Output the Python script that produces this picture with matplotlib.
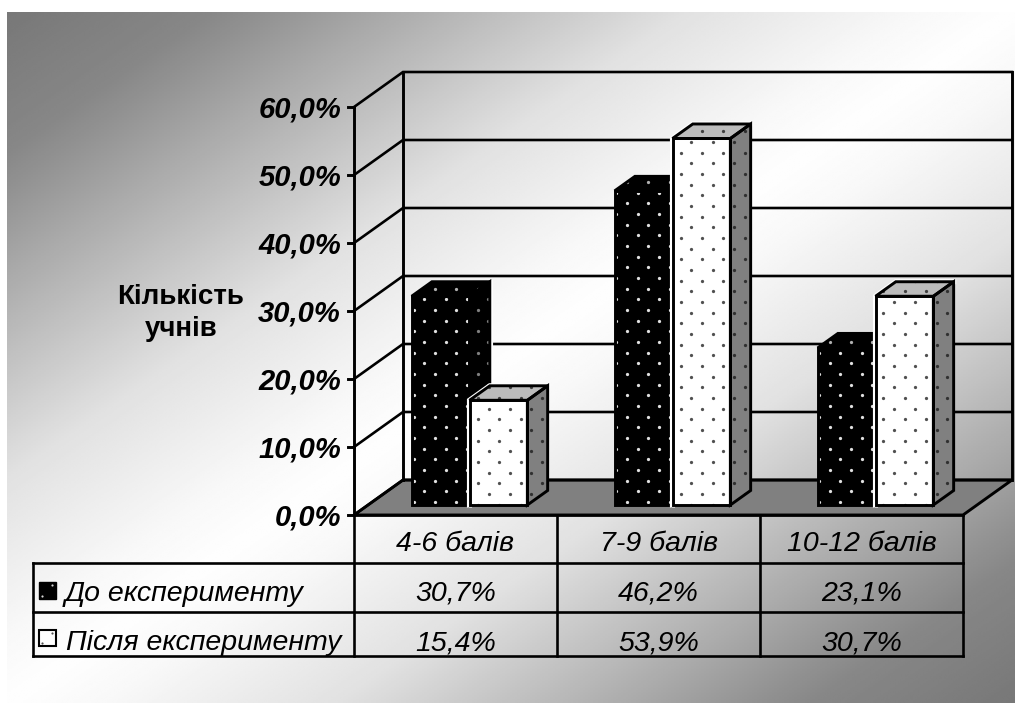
import numpy as np
import matplotlib
matplotlib.use("Agg")
import matplotlib.pyplot as plt
from matplotlib.patches import Polygon
from matplotlib.transforms import Affine2D

plt.rcParams["font.family"] = ["Liberation Sans", "DejaVu Sans"]

categories = ["4-6 балів", "7-9 балів", "10-12 балів"]
series_names = ["До експерименту", "Після експерименту"]
before = [30.7, 46.2, 23.1]
after = [15.4, 53.9, 30.7]
y_ticks = [0, 10, 20, 30, 40, 50, 60]
y_title = "Кількість\nучнів"

W, H = 1015, 703
LW = 2.1

# ---------- 3D PROJECTION ----------
CAT_PX = 203.0      # width of one category
VAL_PX = 6.8        # pixels per percent
X0, Y0 = 354.0, 515.0
DEPTH_X = 49.0 / CAT_PX
DEPTH_Y = 35.0 / VAL_PX
BAR_W = 0.285
BAR_D0, BAR_D1 = 2 / 7, 0.7


def proj(x, v, d=0.0):
    return (x + DEPTH_X * d, v + DEPTH_Y * d)


def fmt(v):
    return f"{v:.1f}%".replace(".", ",")


fig = plt.figure(figsize=(W / 100, H / 100), dpi=100)
ax = fig.add_axes([0, 0, 1, 1])
ax.axis("off")

# pixel transform for the frame, the table and the text
pix = Affine2D().scale(1, -1).translate(0, H)

# ---------- BACKGROUND ----------
xx, yy = np.meshgrid(np.linspace(0, 1, 400), np.linspace(0, 1, 400))
grad = 1 - np.abs(xx + yy - 1)
grey = np.interp(grad, [0, 0.2, 0.42, 0.67, 0.9, 1], [120, 135, 178, 225, 248, 254])
ax.imshow(grey, cmap="gray", vmin=0, vmax=255, interpolation="bilinear",
          transform=pix, extent=(7, W, H, 12), aspect="auto", zorder=0)
ax.set_xlim(-X0 / CAT_PX, (W - X0) / CAT_PX)
ax.set_ylim((Y0 - H) / VAL_PX, Y0 / VAL_PX)

# ---------- WALLS AND FLOOR ----------
n = len(categories)
top = y_ticks[-1]
floor = [proj(0, 0), proj(0, 0, 1), proj(n, 0, 1), proj(n, 0)]
ax.add_patch(Polygon(floor, closed=True, fc="#808080", ec="black", lw=LW, zorder=1))
for t in y_ticks:
    a, b, c = proj(0, t), proj(0, t, 1), proj(n, t, 1)
    ax.plot([a[0], b[0], c[0]], [a[1], b[1], c[1]], color="black", lw=LW * 0.9,
            zorder=1.5, solid_joinstyle="miter")
    ax.plot([a[0] - 6 / CAT_PX, a[0]], [t, t], color="black", lw=LW, zorder=1.5)
    ax.text(a[0] - 13 / CAT_PX, t + 0.1, fmt(t), ha="right", va="center_baseline", fontsize=21,
            fontweight="bold", style="italic", color="black", zorder=5)
for d, x in [(0, 0), (1, 0), (1, n)]:
    p, q = proj(x, 0, d), proj(x, top, d)
    ax.plot([p[0], q[0]], [p[1], q[1]], color="black", lw=LW, zorder=1.5)


# ---------- BARS ----------
def dot_lattice(x0, y0):
    """Staggered dot grid in pixels, shared by every bar of one fill."""
    step = 64 / 3
    i, j = np.meshgrid(np.arange(-60, 60), np.arange(-60, 60))
    px = np.r_[(x0 + step * i).ravel(), (x0 + step / 2 + step * i).ravel()]
    py = np.r_[(y0 + step * j).ravel(), (y0 - step / 2 + step * j).ravel()]
    return px, py


def dotted(poly, px, py, color, z):
    patch = ax.add_patch(Polygon(poly, closed=True, fc="none", ec="none", zorder=z))
    sc = ax.scatter(px, py, s=5.5, color=color, linewidths=0, transform=pix, zorder=z)
    sc.set_clip_path(patch)


def draw_bar(left, value, front, side, topc, edge, halo, dots, z):
    right = left + BAR_W
    f = [proj(left, 0, BAR_D0), proj(right, 0, BAR_D0), proj(right, value, BAR_D0), proj(left, value, BAR_D0)]
    s = [proj(right, 0, BAR_D0), proj(right, 0, BAR_D1), proj(right, value, BAR_D1), proj(right, value, BAR_D0)]
    t = [proj(left, value, BAR_D0), proj(right, value, BAR_D0), proj(right, value, BAR_D1), proj(left, value, BAR_D1)]
    # thin white rim behind the outline
    h = np.array(halo(f, s, t))
    ax.plot(h[:, 0], h[:, 1], color="white", lw=LW + 1.6, zorder=z, solid_joinstyle="miter")
    px, py, cols = dots
    for poly, fc, dc in [(s, side, cols[1]), (t, topc, cols[2]), (f, front, cols[0])]:
        ax.add_patch(Polygon(poly, closed=True, fc=fc, ec="none", zorder=z + 0.1))
        dotted(poly, px, py, dc, z + 0.2)
    for poly in (s, t, f):
        ax.add_patch(Polygon(poly, closed=True, fc="none", ec=edge, lw=LW, zorder=z + 0.3,
                             joinstyle="miter"))


black_px, black_py = dot_lattice(424.3, 299.3)
white_px, white_py = dot_lattice(478.0, 419.3)

for i in range(n):
    center = i + 0.5
    draw_bar(center - BAR_W, before[i], "black", "black", "black", "black",
             lambda f, s, t: [s[1], s[2]],
             (black_px, black_py, ("#e0e0e0", "#808080", "#b0b0b0")), 2 + i)
    draw_bar(center, after[i], "white", "#808080", "#bcbcbc", "black",
             lambda f, s, t: [f[0], f[3], t[3], t[2]],
             (white_px, white_py, ("#505050", "#303030", "#404040")), 2.5 + i)

# ---------- TABLE ----------
col_x = [354, 557, 760, 963]
rows_y = [515, 563, 612, 656]
line = dict(color="black", lw=LW * 0.9, transform=pix, zorder=10, solid_capstyle="projecting")
ax.plot([col_x[0], col_x[-1]], [rows_y[0]] * 2, **line)
for ry in rows_y[1:]:
    ax.plot([33, col_x[-1]], [ry, ry], **line)
for cx in col_x:
    ax.plot([cx, cx], [rows_y[0], rows_y[-1]], **line)
ax.plot([33, 33], [rows_y[1], rows_y[-1]], **line)

cell = dict(transform=pix, fontsize=20.5, style="italic", color="black", va="center_baseline", zorder=11)
for j, cat in enumerate(categories):
    mid = (col_x[j] + col_x[j + 1]) / 2
    ax.text(mid, 541, cat, ha="center", **cell)
    ax.text(mid, 590, fmt(before[j]), ha="center", **cell)
    ax.text(mid, 640, fmt(after[j]), ha="center", **cell)
ax.text(65, 591, series_names[0], ha="left", **cell)
ax.text(66, 640, series_names[1], ha="left", **cell)

# legend keys inside the table
ax.add_patch(Polygon([(39, 582), (56, 582), (56, 599), (39, 599)], closed=True, fc="black",
                     ec="black", lw=1, transform=pix, zorder=11))
ax.add_patch(Polygon([(39, 630), (56, 630), (56, 646), (39, 646)], closed=True, fc="white",
                     ec="black", lw=1.5, transform=pix, zorder=11))
ax.scatter([52, 42], [585, 596], s=2.5, color="#d8d8d8", linewidths=0, transform=pix, zorder=12)
ax.scatter([52, 42], [633, 643], s=2.5, color="#505050", linewidths=0, transform=pix, zorder=12)

ax.text(181, 313, y_title, transform=pix, ha="center", va="center", fontsize=20,
        fontweight="bold", linespacing=1.35, color="black", zorder=11)

fig.savefig("out.png", dpi=100, facecolor="white")
